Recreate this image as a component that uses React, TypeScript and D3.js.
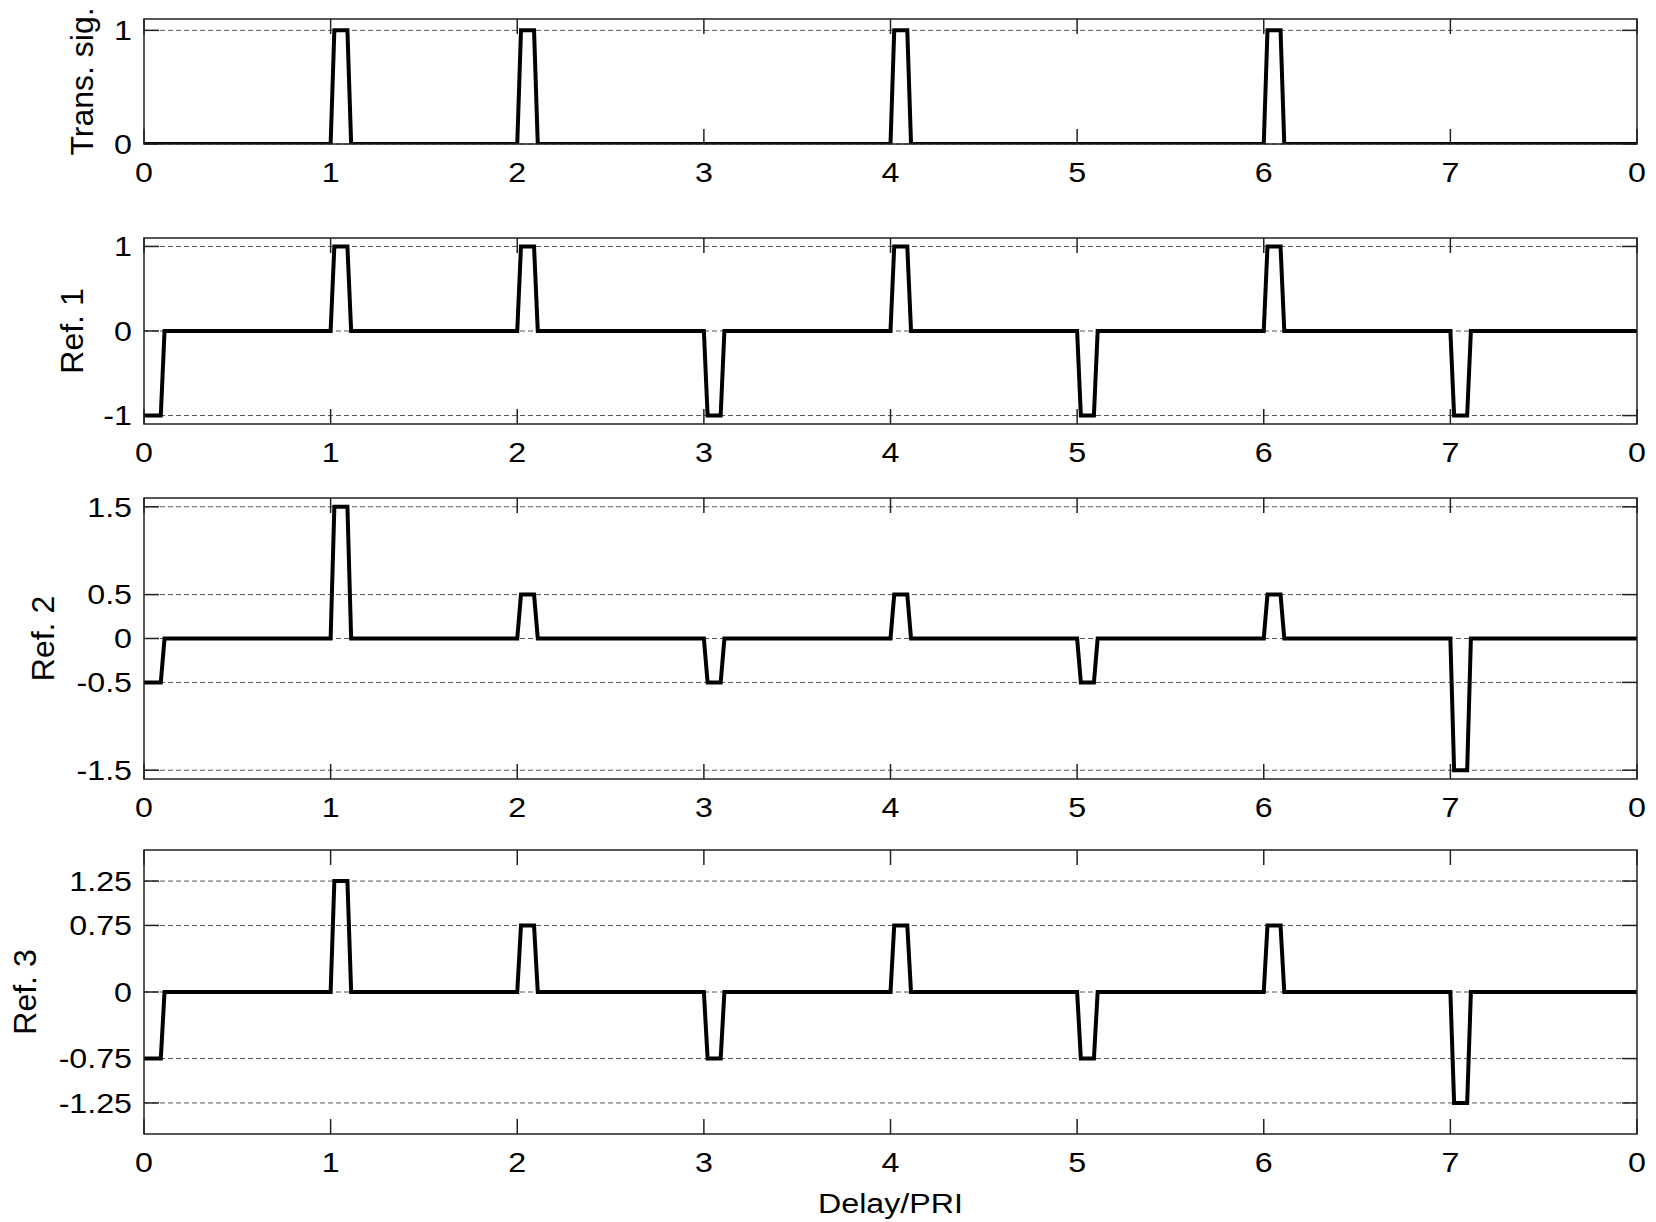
import React from "react";
import * as d3 from "d3";

// ---- data ----
const pulseTimes = [0, 1, 2, 3, 4, 5, 6, 7];
const transAmps = [0, 1, 1, 0, 1, 0, 1, 0];
const ref1Amps = [-1, 1, 1, -1, 1, -1, 1, -1];
const ref2Amps = [-0.5, 1.5, 0.5, -0.5, 0.5, -0.5, 0.5, -1.5];
const ref3Amps = [-0.75, 1.25, 0.75, -0.75, 0.75, -0.75, 0.75, -1.25];
const xTickValues = [0, 1, 2, 3, 4, 5, 6, 7, 8];
const xTickLabels = ["0", "1", "2", "3", "4", "5", "6", "7", "0"];
const transTicks = [0, 1];
const ref1Ticks = [-1, 0, 1];
const ref2Ticks = [-1.5, -0.5, 0, 0.5, 1.5];
const ref3Ticks = [-1.25, -0.75, 0, 0.75, 1.25];
const panelLabels = ["Trans. sig.", "Ref. 1", "Ref. 2", "Ref. 3"];
const xLabel = "Delay/PRI";
// pulse shape offsets (in PRI units)
const pulseRise = 0.02;
const pulseFlatEnd = 0.09;
const pulseFallEnd = 0.11;
const xDomain = [0, 8];

// ---- layout ----
const W = 1656;
const H = 1222;
const left = 144;
const right = 1637;
const tickLen = 15;
const FONT = "'Liberation Sans', Arial, Helvetica, sans-serif";
const FS = 28;
const SX = 1.15;
const FS_Y = 32;

const panels = [
  { label: panelLabels[0], amps: transAmps, ticks: transTicks, domain: [0, 1.1], top: 19, bottom: 144, labelX: 93 },
  { label: panelLabels[1], amps: ref1Amps, ticks: ref1Ticks, domain: [-1.1, 1.1], top: 238, bottom: 424, labelX: 83 },
  { label: panelLabels[2], amps: ref2Amps, ticks: ref2Ticks, domain: [-1.6, 1.6], top: 498, bottom: 779, labelX: 54 },
  { label: panelLabels[3], amps: ref3Amps, ticks: ref3Ticks, domain: [-1.6, 1.6], top: 850, bottom: 1134, labelX: 36 },
];

function buildWave(amps: number[]): [number, number][] {
  const pts: [number, number][] = [];
  pulseTimes.forEach((t, i) => {
    const a = amps[i];
    if (t === xDomain[0]) {
      pts.push([t, a]);
      if (a !== 0) {
        pts.push([t + pulseFlatEnd, a]);
        pts.push([t + pulseFallEnd, 0]);
      }
      return;
    }
    if (a === 0) return;
    pts.push([t, 0]);
    pts.push([t + pulseRise, a]);
    pts.push([t + pulseFlatEnd, a]);
    pts.push([t + pulseFallEnd, 0]);
  });
  pts.push([xDomain[1], 0]);
  return pts;
}

function HText({ x, y, anchor, baseline, children }: any) {
  return (
    <text
      transform={`translate(${x},${y}) scale(${SX},1)`}
      textAnchor={anchor}
      dominantBaseline={baseline}
      fontSize={FS}
      fontFamily={FONT}
      fill="#000"
    >
      {children}
    </text>
  );
}

function Panel({ p, idx }: { p: any; idx: number }) {
  const x = d3.scaleLinear().domain(xDomain).range([left, right]);
  const y = d3.scaleLinear().domain(p.domain).range([p.bottom, p.top]);
  const line = d3
    .line<[number, number]>()
    .x((d) => x(d[0]))
    .y((d) => y(d[1]));
  const wave = buildWave(p.amps);
  const clipId = `clip${idx}`;
  const cy = (p.top + p.bottom) / 2;
  return (
    <g>
      <defs>
        <clipPath id={clipId}>
          <rect x={left} y={p.top} width={right - left} height={p.bottom - p.top} />
        </clipPath>
      </defs>
      {p.ticks.map((t: number) => (
        <line
          key={"g" + t}
          x1={left}
          x2={right}
          y1={y(t)}
          y2={y(t)}
          stroke="#555"
          strokeWidth={1}
          strokeDasharray="5,3"
        />
      ))}
      {p.ticks.map((t: number) => (
        <g key={"yt" + t}>
          <line x1={left} x2={left + tickLen} y1={y(t)} y2={y(t)} stroke="#222" strokeWidth={1.5} />
          <line x1={right} x2={right - tickLen} y1={y(t)} y2={y(t)} stroke="#222" strokeWidth={1.5} />
          <HText x={left - 12} y={y(t)} anchor="end" baseline="central">
            {String(t)}
          </HText>
        </g>
      ))}
      {xTickValues.map((t, i) => (
        <g key={"xt" + t}>
          <line x1={x(t)} x2={x(t)} y1={p.bottom} y2={p.bottom - tickLen} stroke="#222" strokeWidth={1.5} />
          <line x1={x(t)} x2={x(t)} y1={p.top} y2={p.top + tickLen} stroke="#222" strokeWidth={1.5} />
          <HText x={x(t)} y={p.bottom + 38} anchor="middle">
            {xTickLabels[i]}
          </HText>
        </g>
      ))}
      <path
        d={line(wave) || ""}
        fill="none"
        stroke="#000"
        strokeWidth={4}
        strokeLinejoin="miter"
        clipPath={`url(#${clipId})`}
      />
      <rect
        x={left}
        y={p.top}
        width={right - left}
        height={p.bottom - p.top}
        fill="none"
        stroke="#222"
        strokeWidth={1.5}
      />
      <text
        transform={`translate(${p.labelX},${cy}) rotate(-90)`}
        textAnchor="middle"
        fontSize={FS_Y}
        fontFamily={FONT}
        fill="#000"
      >
        {p.label}
      </text>
    </g>
  );
}

export default function App() {
  const x = d3.scaleLinear().domain(xDomain).range([left, right]);
  return (
    <svg
      width={W}
      height={H}
      viewBox={`0 0 ${W} ${H}`}
      style={{ position: "absolute", left: 0, top: 0, background: "#fff" }}
    >
      <rect x={0} y={0} width={W} height={H} fill="#fff" />
      {panels.map((p, i) => (
        <Panel key={i} p={p} idx={i} />
      ))}
      <HText x={x((xDomain[0] + xDomain[1]) / 2)} y={1213} anchor="middle">
        {xLabel}
      </HText>
    </svg>
  );
}
